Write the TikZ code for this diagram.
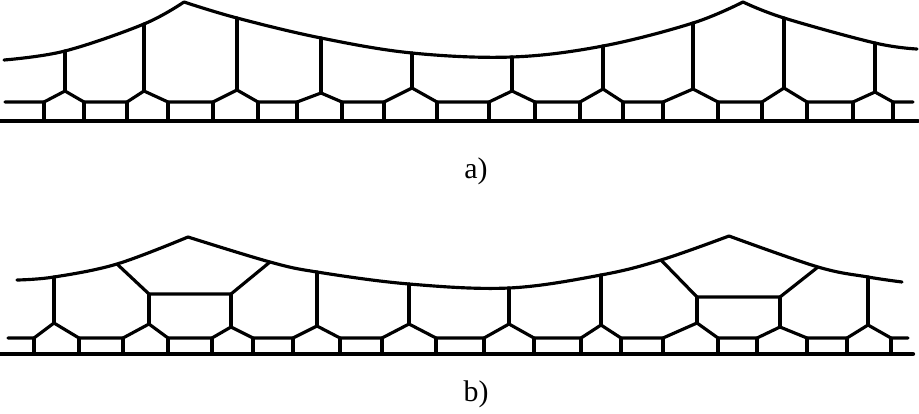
\documentclass[tikz,border=0pt]{standalone}
\usepackage{fontspec}
\setmainfont{Liberation Serif}
\tikzset{
  wall/.style={line width=1.8pt},
  ground/.style={line width=2.4pt},
  caption/.style={font=\fontsize{17}{19}\selectfont}
}
\def\cellsa{44/65/91/84/51,127/144/91/168/24,213/237/90/258/18,297/321/93/342/38,384/412/88/437/53,489/512/91/535/57,580/603/89/623/46,663/693/89/718/23,762/784/88/807/18,853/875/92/893/43}
\def\cellsb{34/54/323/79/277,123/149/324/168/294,212/231/327/253/294,293/317/326/340/272,382/409/324/436/284,484/509/324/534/288,581/601/325/621/275,663/697/323/718/297,757/780/327/807/297,847/868/325/891/277}
\begin{document}
\begin{tikzpicture}[x=0.02cm,y=-0.02cm,line cap=round,line join=round]
\useasboundingbox (0,0) rectangle (919,413);
% a)
\draw[ground] (0,121) -- (918,121);
\draw[wall] (5,102) foreach \l/\a/\ay/\r/\cy in \cellsa { -- (\l,102) -- (\a,\ay) -- (\r,102) } -- (913,102);
\foreach \l/\a/\ay/\r/\cy in \cellsa
  \draw[wall] (\l,102) -- (\l,121) (\r,102) -- (\r,121) (\a,\ay) -- (\a,\cy);
\draw[wall] plot[smooth,tension=0.6] coordinates {(4,60) (65,51) (144,24) (184,2)};
\draw[wall] plot[smooth,tension=0.6] coordinates {(184,2) (237,18) (321,38) (412,53) (512,57) (603,46) (693,23) (743,2)};
\draw[wall] plot[smooth,tension=0.6] coordinates {(743,2) (784,18) (875,43) (917,49)};
\node[caption] (capa) at (476,171) {a)};
% b)
\draw[ground] (0,354) -- (913,354);
\draw[wall] (8,338) foreach \l/\a/\ay/\r/\cy in \cellsb { -- (\l,338) -- (\a,\ay) -- (\r,338) } -- (908,338);
\foreach \l/\a/\ay/\r/\cy in \cellsb
  \draw[wall] (\l,338) -- (\l,354) (\r,338) -- (\r,354) (\a,\ay) -- (\a,\cy);
\draw[wall] plot[smooth,tension=0.6] coordinates {(17,280) (54,277) (117,264) (188,237)};
\draw[wall] plot[smooth,tension=0.6] coordinates {(188,237) (270,262) (317,272) (409,284) (509,288) (601,275) (661,260) (729,236)};
\draw[wall] plot[smooth,tension=0.6] coordinates {(729,236) (818,267) (868,277) (902,282)};
\draw[wall] (117,264) -- (149,294) -- (231,294) -- (270,262);
\draw[wall] (661,260) -- (697,297) -- (780,297) -- (818,267);
\node[caption] (capb) at (476,394) {b)};
\end{tikzpicture}
\end{document}
